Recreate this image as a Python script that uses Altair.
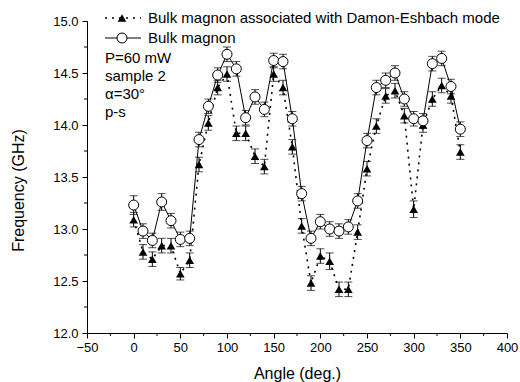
import altair as alt
import pandas as pd

# ---- data ----
angles = [0, 10, 20, 30, 40, 50, 60, 70, 80, 90, 100, 110, 120, 130, 140, 150, 160, 170,
          180, 190, 200, 210, 220, 230, 240, 250, 260, 270, 280, 290, 300, 310, 320, 330, 340, 350]
bulk = [13.23, 12.98, 12.89, 13.26, 13.08, 12.90, 12.91, 13.86, 14.18, 14.48, 14.68, 14.54,
        14.07, 14.27, 14.15, 14.62, 14.61, 14.06, 13.34, 12.91, 13.07, 13.00, 12.98, 13.02,
        13.27, 13.85, 14.36, 14.43, 14.50, 14.25, 14.06, 14.04, 14.59, 14.64, 14.37, 13.96]
de = [13.09, 12.78, 12.71, 12.84, 12.84, 12.57, 12.70, 13.62, 14.02, 14.36, 14.49, 13.92,
      13.92, 13.70, 13.60, 14.49, 14.36, 13.79, 13.03, 12.48, 12.74, 12.69, 12.42, 12.42,
      12.97, 13.58, 13.99, 14.28, 14.33, 14.09, 13.19, 14.00, 14.25, 14.38, 14.28, 13.74]
bulk_err = [0.09, 0.07, 0.07, 0.08, 0.07, 0.07, 0.07, 0.07, 0.07, 0.07, 0.07, 0.07,
            0.07, 0.07, 0.07, 0.07, 0.07, 0.07, 0.07, 0.07, 0.07, 0.07, 0.07, 0.07,
            0.07, 0.07, 0.07, 0.07, 0.07, 0.07, 0.07, 0.07, 0.07, 0.07, 0.07, 0.07]
de_err = [0.07, 0.07, 0.07, 0.07, 0.07, 0.06, 0.07, 0.07, 0.07, 0.07, 0.07, 0.07,
          0.07, 0.07, 0.07, 0.07, 0.07, 0.07, 0.07, 0.07, 0.07, 0.08, 0.07, 0.07,
          0.07, 0.07, 0.07, 0.07, 0.07, 0.07, 0.08, 0.07, 0.07, 0.07, 0.07, 0.07]

x_ticks = [-50, 0, 50, 100, 150, 200, 250, 300, 350, 400]
x_minor = [-25, 25, 75, 125, 175, 225, 275, 325, 375]
y_ticks = [12.0, 12.5, 13.0, 13.5, 14.0, 14.5, 15.0]
y_minor = [12.25, 12.75, 13.25, 13.75, 14.25, 14.75]

legend_labels = ["Bulk magnon associated with Damon-Eshbach mode", "Bulk magnon"]
notes = "P=60 mW\nsample 2\n\u03b1=30\u00b0\np-s"

FONT = "Liberation Sans"
W, H = 420, 312

df = pd.DataFrame({
    "angle": angles,
    "bulk": bulk,
    "de": de,
    "b_lo": [v - e for v, e in zip(bulk, bulk_err)],
    "b_hi": [v + e for v, e in zip(bulk, bulk_err)],
    "d_lo": [v - e for v, e in zip(de, de_err)],
    "d_hi": [v + e for v, e in zip(de, de_err)],
})

xs = alt.Scale(domain=[-50, 400], nice=False, zero=False)
ys = alt.Scale(domain=[12.0, 15.0], nice=False, zero=False)

xaxis = alt.Axis(values=x_ticks, title="Angle (deg.)", grid=False, tickSize=5,
                 labelFont=FONT, labelFontSize=13, labelColor="black", labelPadding=3,
                 titleFont=FONT, titleFontSize=16, titleFontWeight="normal", titleColor="black",
                 titleY=40, titleBaseline="middle",
                 domainColor="black", tickColor="black", labelFlush=False)
yaxis = alt.Axis(values=y_ticks, format=".1f", title="Frequency (GHz)", grid=False, tickSize=5,
                 labelFont=FONT, labelFontSize=13, labelColor="black", labelPadding=4,
                 titleFont=FONT, titleFontSize=16, titleFontWeight="normal", titleColor="black",
                 titleX=-69, titleY=169, titleAngle=-90, titleBaseline="middle", titleAlign="center",
                 domainColor="black", tickColor="black")

base = alt.Chart(df)

line_de = base.mark_line(color="black", strokeWidth=1.6, strokeDash=[2, 5]).encode(
    x=alt.X("angle:Q", scale=xs, axis=xaxis),
    y=alt.Y("de:Q", scale=ys, axis=yaxis),
)
line_b = base.mark_line(color="black", strokeWidth=1).encode(
    x=alt.X("angle:Q", scale=xs), y=alt.Y("bulk:Q", scale=ys))

err_b = base.mark_rule(color="black", strokeWidth=1).encode(
    x=alt.X("angle:Q", scale=xs), y=alt.Y("b_lo:Q", scale=ys), y2="b_hi:Q")
err_d = base.mark_rule(color="black", strokeWidth=1).encode(
    x=alt.X("angle:Q", scale=xs), y=alt.Y("d_lo:Q", scale=ys), y2="d_hi:Q")

caps = []
for f in ["b_lo", "b_hi", "d_lo", "d_hi"]:
    caps.append(base.mark_tick(orient="horizontal", color="black", size=8, thickness=1).encode(
        x=alt.X("angle:Q", scale=xs), y=alt.Y(f"{f}:Q", scale=ys)))

pts_d = base.mark_point(shape="triangle-up", filled=True, color="black", size=75, opacity=1).encode(
    x=alt.X("angle:Q", scale=xs), y=alt.Y("de:Q", scale=ys))
pts_b = base.mark_point(shape="circle", filled=True, fill="white", stroke="black", strokeWidth=1,
                        size=100, opacity=1).encode(
    x=alt.X("angle:Q", scale=xs), y=alt.Y("bulk:Q", scale=ys))

# minor ticks
xminor = alt.Chart(pd.DataFrame({"v": x_minor})).mark_rule(color="black", strokeWidth=1).encode(
    x=alt.X("v:Q", scale=xs), y=alt.value(H), y2=alt.value(H + 3))
yminor = alt.Chart(pd.DataFrame({"v": y_minor})).mark_rule(color="black", strokeWidth=1).encode(
    y=alt.Y("v:Q", scale=ys), x=alt.value(0), x2=alt.value(-3))

# manual legend
one = alt.Data(values=[{"k": 1}])
leg_line1 = alt.Chart(one).mark_rule(color="black", strokeWidth=1.6, strokeDash=[2, 5]).encode(
    x=alt.value(18), x2=alt.value(54), y=alt.value(-3))
leg_sym1 = alt.Chart(one).mark_point(shape="triangle-up", filled=True, color="black", size=75,
                                     opacity=1).encode(x=alt.value(35), y=alt.value(-3))
leg_txt1 = alt.Chart(one).mark_text(text=legend_labels[0], align="left", baseline="middle",
                                    font=FONT, fontSize=15, color="black").encode(
    x=alt.value(61), y=alt.value(-3))
leg_line2 = alt.Chart(one).mark_rule(color="black", strokeWidth=1).encode(
    x=alt.value(18), x2=alt.value(54), y=alt.value(17))
leg_sym2 = alt.Chart(one).mark_point(shape="circle", filled=True, fill="white", stroke="black",
                                     strokeWidth=1, size=100, opacity=1).encode(
    x=alt.value(35), y=alt.value(17))
leg_txt2 = alt.Chart(one).mark_text(text=legend_labels[1], align="left", baseline="middle",
                                    font=FONT, fontSize=15, color="black").encode(
    x=alt.value(61), y=alt.value(17))
note_txt = alt.Chart(one).mark_text(text=notes, lineBreak="\n", lineHeight=18, align="left",
                                    baseline="top", font=FONT, fontSize=15, color="black").encode(
    x=alt.value(18), y=alt.value(30))

chart = alt.layer(
    line_de, line_b, err_b, err_d, *caps, pts_d, pts_b, xminor, yminor,
    leg_line1, leg_sym1, leg_txt1, leg_line2, leg_sym2, leg_txt2, note_txt,
).properties(
    width=W, height=H,
    autosize=alt.AutoSizeParams(type="none"),
    padding={"left": 87, "top": 21, "right": 13, "bottom": 49},
    background="white",
).configure_view(strokeWidth=0)

chart.save("out.html", embed_options={"renderer": "svg", "actions": False})
